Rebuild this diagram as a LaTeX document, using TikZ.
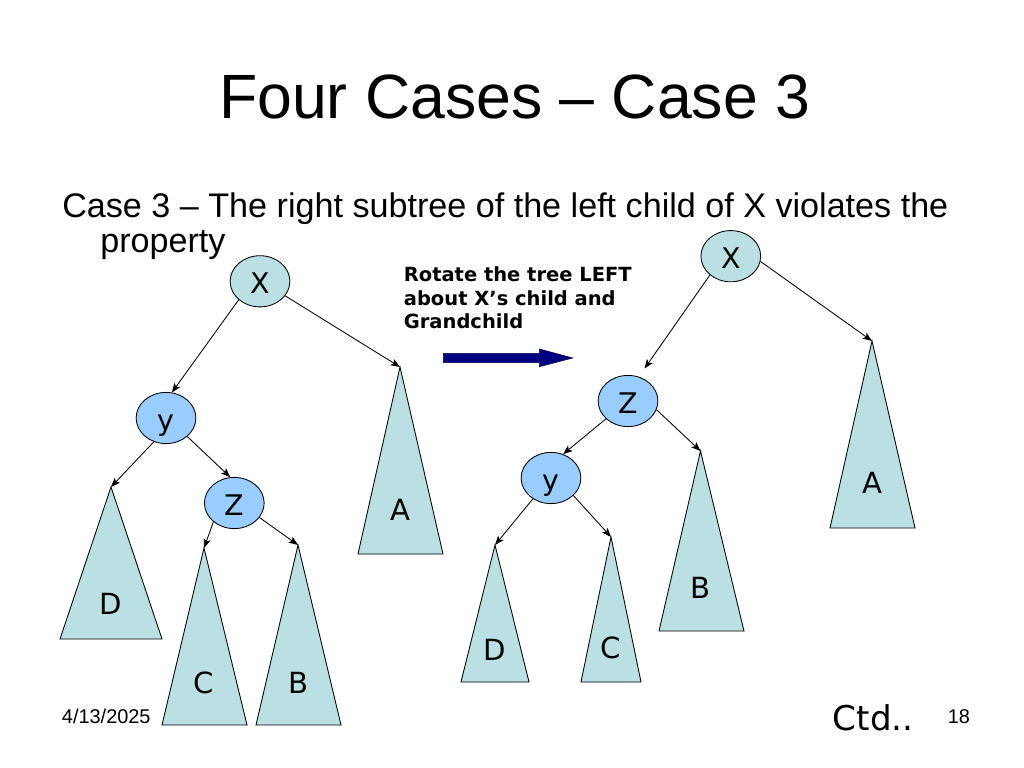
\documentclass[tikz,border=0pt]{standalone}
\usepackage{fontspec}
\setmainfont{Liberation Sans}
\newfontfamily\verdanafont{DejaVu Sans}
\usetikzlibrary{arrows,arrows.meta,shapes.geometric}
\definecolor{treefill}{HTML}{BBE0E3}
\definecolor{keyfill}{HTML}{99CCFF}
\definecolor{arrownavy}{HTML}{000080}

\begin{document}
\begin{tikzpicture}[x=0.703125pt, y=-0.703125pt,
        key/.style={ellipse, draw, line width=0.6pt, fill=treefill, minimum width=42pt, minimum height=36pt,
            inner sep=0pt, font=\verdanafont\fontsize{20}{24}\selectfont, text height=17.8pt, text depth=0pt},
        subtree/.style={draw, line width=0.6pt, fill=treefill, line join=miter},
        leaflabel/.style={inner sep=0pt, font=\verdanafont\fontsize{20.5}{24}\selectfont, text height=15pt, text depth=0pt},
        link/.style={-{Stealth[length=6.5pt, width=5pt, inset=1.5pt]}, line width=0.6pt}]
        \fill[white] (0,0) rectangle (1024,768);
        \useasboundingbox (0,0) rectangle (1024,768);

        \node [anchor=base] (title) at (514.7,119) {\fontsize{44}{50}\selectfont Four Cases -- Case 3};
        \node [anchor=base west, inner sep=0pt] (case) at (62,217.3) {\fontsize{24}{28}\selectfont Case 3 -- The right subtree of the left child of X violates the};
        \node [anchor=base west, inner sep=0pt] (prop) at (100,252.5) {\fontsize{24}{28}\selectfont property};

        % subtrees: name / apex x / apex y / base left / base right / base y / label y / label
        \foreach \name/\ax/\ay/\bl/\br/\by/\ly/\lbl in {
                lA/400/367/358/443/554/510/A, lD/111/487/60/162/639/604/D,
                lC/204/548/162/247/725/682.5/C, lB/298/545/256/341/725/682.5/B,
                rA/872/341/830/915/528/483/A, rB/700.5/451/659/744/631/588/B,
                rD/495/545/461/529/682/650/D, rC/611/537/581/641/682/648/C} {
            \coordinate (\name) at (\ax,\ay);
            \draw [subtree] (\name) -- (\br,\by) -- (\bl,\by) -- cycle;
            \node [leaflabel] (\name-lbl) at (\ax,\ly) {\lbl};
        }

        % before
        \node [key] (lX) at (260,281.3) {X};
        \node [key, fill=keyfill] (ly) at (166,418) {y};
        \node [key, fill=keyfill] (lZ) at (234.3,503) {Z};
        \draw [link] (lX.221) -- (ly.77);
        \draw [link] (lX.330) -- (lA);
        \draw [link] (ly.243) -- (lD);
        \draw [link] (ly.319) -- (lZ.99);
        \draw [link] (lZ.222) -- (lC);
        \draw [link] (lZ.330) -- (lB);

        % after
        \node [key] (rX) at (730.8,256.2) {X};
        \node [key, fill=keyfill] (rZ) at (628,401) {Z};
        \node [key, fill=keyfill] (ry) at (551,478) {y};
        \draw [link, shorten >=7pt] (rX.222) -- (rZ.66);
        \draw [link] (rX.350) -- (rA);
        \draw [link] (rZ.219) -- (ry.63);
        \draw [link] (rZ.343) -- (rB);
        \draw [link] (ry.229) -- (rD);
        \draw [link] (ry.322) -- (rC);

        \node [anchor=north west, inner sep=0pt, align=left, font=\verdanafont\bfseries\fontsize{13.7}{16.2}\selectfont] (rotate) at (403.6,266.9)
            {Rotate the tree LEFT\\about X’s child and\\Grandchild};
        \fill [arrownavy, draw=arrownavy!70!black, line width=0.4pt] (443.3,353.3) -- (539.3,353.3) -- (539.3,349) -- (572.7,358)
            -- (539.3,366.7) -- (539.3,362.7) -- (443.3,362.7) -- cycle;

        \node [anchor=base west, inner sep=0pt] (date) at (61.7,723.3) {\fontsize{14}{16}\selectfont 4/13/2025};
        \node [anchor=base west, inner sep=0pt] (ctd) at (832.6,730) {\verdanafont\fontsize{24}{28}\selectfont Ctd..};
        \node [anchor=base west, inner sep=0pt] (page) at (947.5,723) {\fontsize{14}{16}\selectfont 18};
    \end{tikzpicture}
\end{document}
